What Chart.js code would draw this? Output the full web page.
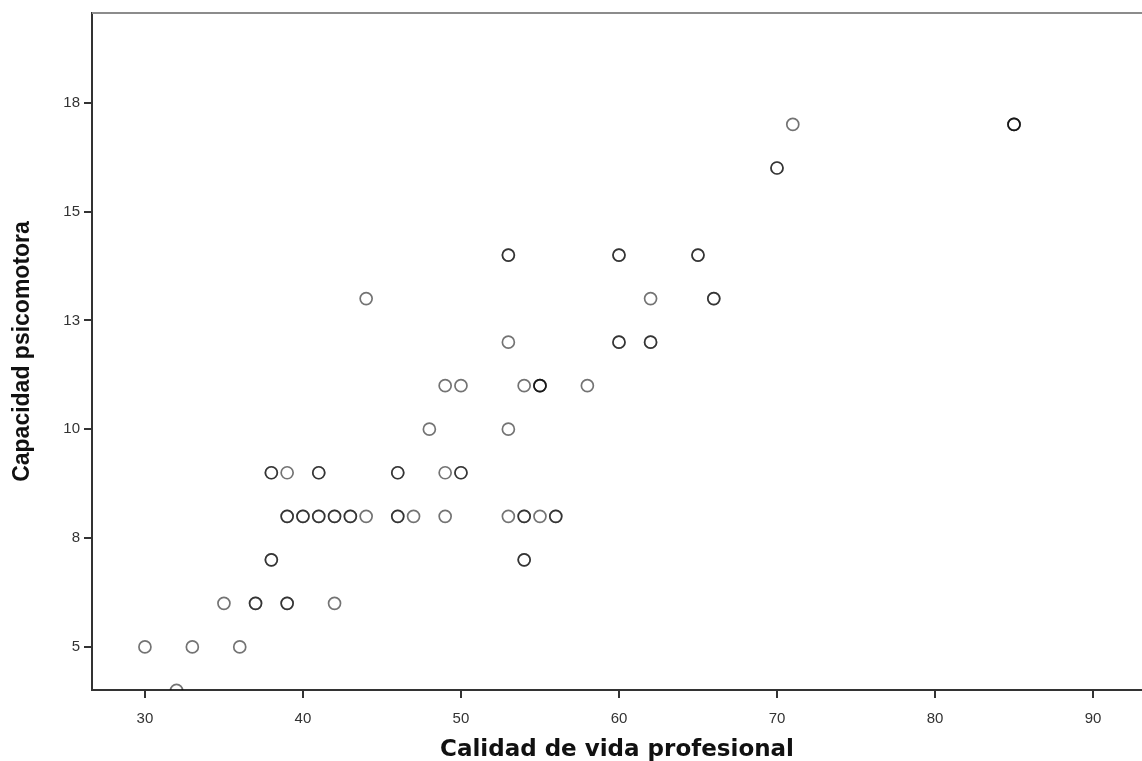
<!DOCTYPE html>
<html>
<head>
<meta charset="utf-8">
<script src="https://cdn.jsdelivr.net/npm/chart.js@4.4.0/dist/chart.umd.min.js"></script>
<style>
  body { margin: 0; background: #fff; }
</style>
</head>
<body>
<canvas id="myChart" width="1142" height="761"></canvas>
<script>
// Calidad de vida profesional (x) vs Capacidad psicomotora (y)
// repeated pairs are overlapping cases (they show darker in the picture)
const calidadVida = [
  71, 85, 85, 85,
  70, 70,
  53, 53, 60, 60, 65, 65,
  44, 62, 66, 66,
  53, 60, 60, 62, 62,
  49, 50, 54, 55, 55, 55, 58,
  48, 53,
  38, 38, 39, 41, 41, 46, 46, 49, 50, 50,
  39, 39, 40, 40, 41, 41, 42, 42, 43, 43, 44, 46, 46, 47, 49, 53, 54, 54, 55, 56, 56,
  38, 38, 54, 54,
  35, 37, 37, 39, 39, 42,
  30, 33, 36,
  32
];
const capacidadPsico = [
  17, 17, 17, 17,
  16, 16,
  14, 14, 14, 14, 14, 14,
  13, 13, 13, 13,
  12, 12, 12, 12, 12,
  11, 11, 11, 11, 11, 11, 11,
  10, 10,
  9, 9, 9, 9, 9, 9, 9, 9, 9, 9,
  8, 8, 8, 8, 8, 8, 8, 8, 8, 8, 8, 8, 8, 8, 8, 8, 8, 8, 8, 8, 8,
  7, 7, 7, 7,
  6, 6, 6, 6, 6, 6,
  5, 5, 5,
  4
];

const xTicks = [30, 40, 50, 60, 70, 80, 90];
const yTicks = [5, 7.5, 10, 12.5, 15, 17.5];
const yTickLabels = ['5', '8', '10', '13', '15', '18'];

const puntos = calidadVida.map((x, i) => ({ x: x, y: capacidadPsico[i] }));

const bordeSuperior = {
  id: 'bordeSuperior',
  afterDraw(chart) {
    const a = chart.chartArea;
    const c = chart.ctx;
    c.save();
    c.strokeStyle = '#8c8c8c';
    c.lineWidth = 2;
    c.beginPath();
    c.moveTo(a.left, a.top);
    c.lineTo(a.right, a.top);
    c.stroke();
    c.restore();
  }
};

const ctx = document.getElementById('myChart');

new Chart(ctx, {
  type: 'scatter',
  data: {
    datasets: [{
      data: puntos,
      pointRadius: 6,
      pointHoverRadius: 6,
      pointBorderWidth: 1.7,
      borderColor: 'rgba(0,0,0,0.55)',
      backgroundColor: 'rgba(0,0,0,0)',
      clip: 0
    }]
  },
  options: {
    responsive: false,
    animation: false,
    layout: { autoPadding: false, padding: { top: 12, right: 0, left: 0, bottom: 0 } },
    plugins: {
      legend: { display: false },
      tooltip: { enabled: false }
    },
    scales: {
      x: {
        type: 'linear',
        min: 26.65,
        max: 93.1,
        afterBuildTicks: (scale) => { scale.ticks = xTicks.map(v => ({ value: v })); },
        afterFit: (scale) => {
          scale.height = 71;
          scale.paddingLeft = 0;
          scale.paddingRight = 0;
        },
        grid: { drawOnChartArea: false, drawTicks: true, tickLength: 8, color: '#333', lineWidth: 2 },
        border: { color: '#333', width: 2 },
        ticks: {
          color: '#333',
          padding: 12,
          font: { family: 'Liberation Sans, Arial', size: 15 }
        },
        title: {
          display: true,
          text: 'Calidad de vida profesional',
          color: '#111',
          padding: { top: 0, bottom: -3 },
          font: { family: 'DejaVu Sans', size: 23, weight: 'bold' }
        }
      },
      y: {
        type: 'linear',
        min: 4.01,
        max: 19.56,
        afterBuildTicks: (scale) => { scale.ticks = yTicks.map(v => ({ value: v })); },
        afterFit: (scale) => { scale.width = 92; },
        grid: { drawOnChartArea: false, drawTicks: true, tickLength: 8, color: '#333', lineWidth: 2 },
        border: { color: '#333', width: 2 },
        ticks: {
          color: '#333',
          padding: 4,
          font: { family: 'Liberation Sans, Arial', size: 15 },
          callback: (v, i) => yTickLabels[i]
        },
        title: {
          display: true,
          text: 'Capacidad psicomotora',
          color: '#111',
          padding: { top: 9, bottom: 0 },
          font: { family: 'Liberation Sans, Arial', size: 23, weight: 'bold' }
        }
      }
    }
  },
  plugins: [bordeSuperior]
});
</script>
</body>
</html>
